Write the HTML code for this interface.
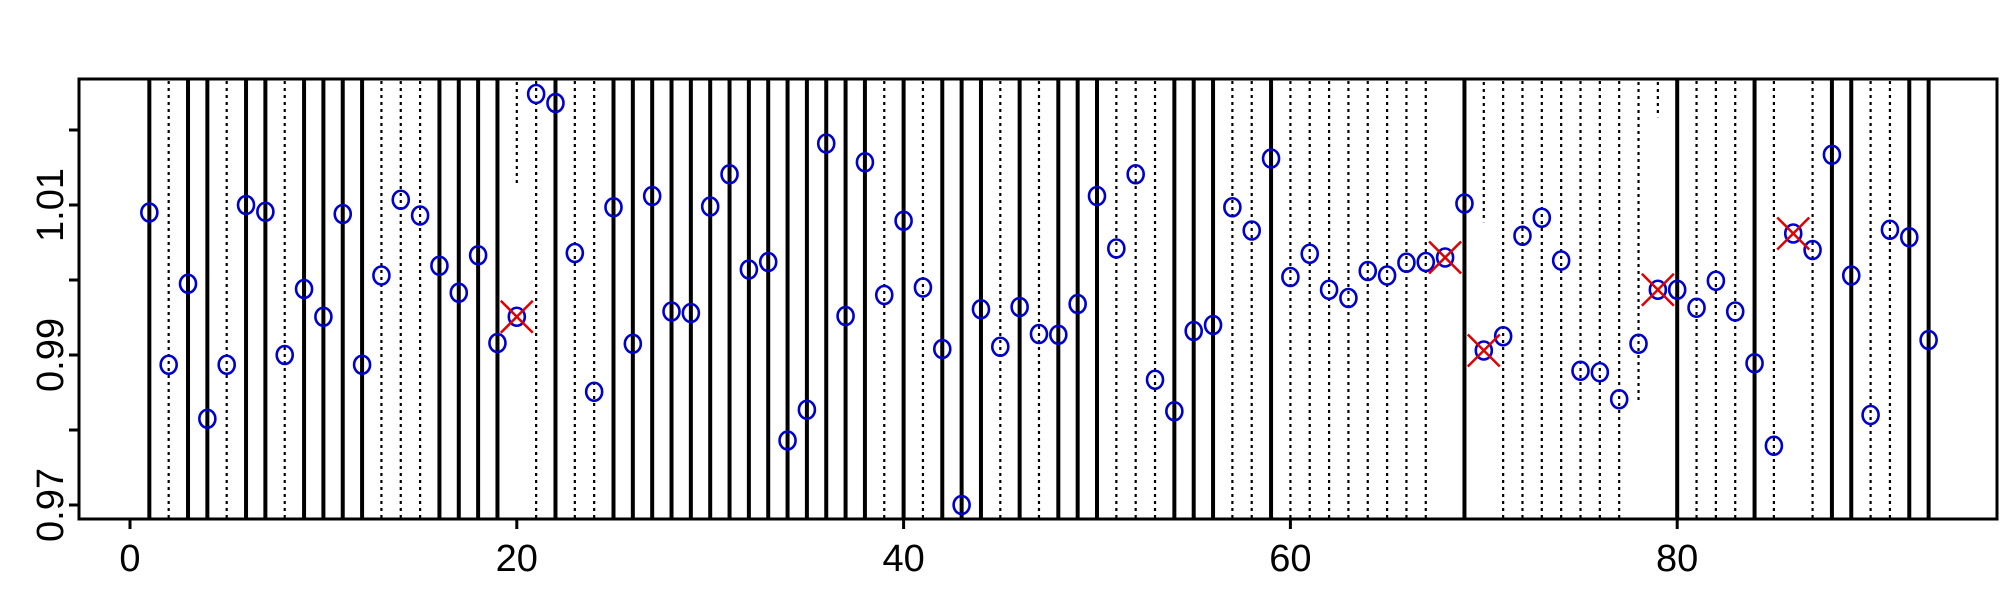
<!DOCTYPE html>
<html><head><meta charset="utf-8"><style>html,body{margin:0;padding:0;background:#fff}svg{display:block}</style></head>
<body>
<svg id="chart" width="2000" height="600" xmlns="http://www.w3.org/2000/svg" font-family="Liberation Sans, sans-serif"></svg>
<script>
const values=[1.009,0.9887,0.9995,0.9815,0.9887,1.010,1.0091,0.990,0.9988,0.9951,1.0088,0.9887,1.0006,1.0107,1.0086,1.0019,0.9983,1.0033,0.9916,0.9951,1.0248,1.0236,1.0036,0.9851,1.0097,0.9915,1.0112,0.9958,0.9956,1.0098,1.0141,1.0014,1.0024,0.9786,0.9827,1.0182,0.9952,1.0157,0.998,1.0079,0.999,0.9908,0.970,0.9961,0.9911,0.9964,0.9928,0.9927,0.9968,1.0112,1.0042,1.0141,0.9867,0.9825,0.9932,0.994,1.0097,1.0066,1.0162,1.0004,1.0035,0.9987,0.9976,1.0012,1.0006,1.0023,1.0024,1.003,1.0102,0.9906,0.9925,1.0059,1.0083,1.0026,0.9879,0.9877,0.9841,0.9915,0.9987,0.9987,0.9963,0.9999,0.9958,0.9889,0.9779,1.0062,1.004,1.0167,1.0006,0.982,1.0067,1.0057,0.992];
const crossIdx=[20,68,70,79,86];
const solidIdx=[1,3,4,6,7,9,10,11,12,16,17,18,19,22,25,26,27,28,29,30,31,32,33,34,35,36,37,38,40,42,43,44,46,48,49,50,54,55,56,59,69,80,84,88,89,92,93];
const dottedIdx=[2,5,8,13,14,15,21,23,24,39,41,45,47,51,52,53,57,58,60,61,62,63,64,65,66,67,71,72,73,74,75,76,77,81,82,83,85,87,90,91];
const partialIdx=[20,70,78,79];
const partialLow=[1.0124,1.0077,0.984,1.0217];
const xTicks=[0,20,40,60,80];
const yTicks=[0.97,0.98,0.99,1.00,1.01,1.02];
const yLabels=["0.97","","0.99","","1.01",""];

const L=79,R=1997,T=79,B=519;
const xs=v=>130+v*19.34;
const ys=v=>505-(v-0.97)*7500;
const svg=document.getElementById('chart');
const NS='http://www.w3.org/2000/svg';
function mk(tag,attrs,parent){const e=document.createElementNS(NS,tag);for(const k in attrs)e.setAttribute(k,attrs[k]);(parent||svg).appendChild(e);return e;}

const gl=mk('g',{});


solidIdx.forEach(i=>{const l=mk('line',{x1:xs(i),x2:xs(i),y1:T,y2:B,stroke:'#000','stroke-width':4},gl);

});
dottedIdx.forEach(i=>{const l=mk('line',{x1:xs(i),x2:xs(i),y1:T+2,y2:B,stroke:'#000','stroke-width':2.2,'stroke-dasharray':'3 4'},gl);

});
partialIdx.forEach((i,k)=>{const l=mk('line',{x1:xs(i),x2:xs(i),y1:T+3,y2:ys(partialLow[k]),stroke:'#000','stroke-width':2.2,'stroke-dasharray':'3 4'},gl);

});

const gp=mk('g',{});


values.forEach((v,k)=>{const c=mk('ellipse',{cx:xs(k+1),cy:ys(v),rx:8,ry:9,fill:'none',stroke:'#0000cc','stroke-width':2.6},gp);

});
crossIdx.forEach(i=>{const x=xs(i),y=ys(values[i-1]),d=16;
const p=mk('path',{d:`M${x-d},${y-d}L${x+d},${y+d}M${x-d},${y+d}L${x+d},${y-d}`,stroke:'#e00000','stroke-width':2.5,fill:'none'},gp);

});

const fr=mk('rect',{x:L,y:T,width:R-L,height:B-T,fill:'none',stroke:'#000','stroke-width':3});



const gx=mk('g',{});


xTicks.forEach(t=>{mk('line',{x1:xs(t),x2:xs(t),y1:B,y2:B+10,stroke:'#000','stroke-width':3},gx);
const tx=mk('text',{x:xs(t),y:571,'font-size':38,'text-anchor':'middle',fill:'#000'},gx);tx.textContent=String(t);

});

const gy=mk('g',{});


yTicks.forEach((t,k)=>{mk('line',{x1:L-10,x2:L,y1:ys(t),y2:ys(t),stroke:'#000','stroke-width':3},gy);
if(yLabels[k]){const tx=mk('text',{x:0,y:0,'font-size':38,'text-anchor':'middle',fill:'#000',transform:`translate(63,${ys(t)}) rotate(-90)`},gy);tx.textContent=yLabels[k];

}});
</script>
</body></html>
